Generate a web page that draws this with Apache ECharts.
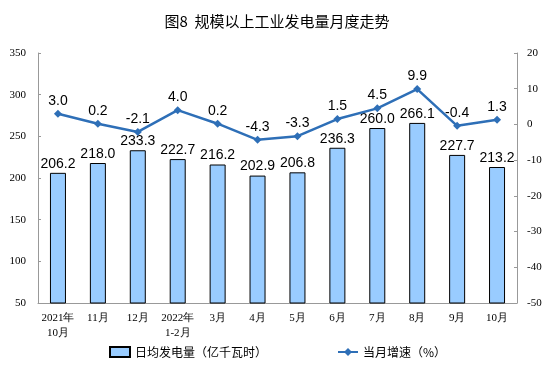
<!DOCTYPE html>
<html><head><meta charset="utf-8">
<script src="https://cdn.jsdelivr.net/npm/echarts@6/dist/echarts.min.js"></script>
<style>html,body{margin:0;padding:0;background:#fff}#c{width:554px;height:382px}</style>
</head><body><div id="c"></div>
<script>
const title = '图8  规模以上工业发电量月度走势';
const categories = ['2021年\n10月','11月','12月','2022年\n1-2月','3月','4月','5月','6月','7月','8月','9月','10月'];
const dailyOutput = [206.2,218.0,233.3,222.7,216.2,202.9,206.8,236.3,260.0,266.1,227.7,213.2];
const growth = [3.0,0.2,-2.1,4.0,0.2,-4.3,-3.3,1.5,4.5,9.9,-0.4,1.3];
const barName = '日均发电量（亿千瓦时）';
const lineName = '当月增速（%）';

const chart = echarts.init(document.getElementById('c'));
const axisFont = {fontFamily:'Liberation Serif', fontSize:11, color:'#000'};
chart.setOption({
  animation:false,
  title:{text:title,left:'center',top:9,textStyle:{fontFamily:'Noto Sans CJK SC',fontSize:15,fontWeight:'normal',color:'#000'}},
  legend:{bottom:19,left:104,itemGap:70,itemWidth:20,itemHeight:10,
    textStyle:{fontFamily:'Noto Sans CJK SC',fontSize:12,color:'#000'},
    data:[{name:barName,icon:'rect'},{name:lineName}]},
  grid:{left:38,right:37,top:53,bottom:79},
  xAxis:{type:'category',data:categories,
    axisLine:{onZero:false,lineStyle:{color:'#999'}},
    axisTick:{inside:true,length:3,lineStyle:{color:'#999'}},
    axisLabel:Object.assign({margin:8,lineHeight:15,interval:0},axisFont)},
  yAxis:[
    {type:'value',min:50,max:350,interval:50,splitLine:{show:false},
     axisLine:{show:true,lineStyle:{color:'#999'}},
     axisTick:{show:true,inside:true,length:3,lineStyle:{color:'#999'}},
     axisLabel:Object.assign({margin:12},axisFont)},
    {type:'value',min:-50,max:20,interval:10,splitLine:{show:false},
     axisLine:{show:true,lineStyle:{color:'#999'}},
     axisTick:{show:true,inside:true,length:3,lineStyle:{color:'#999'}},
     axisLabel:Object.assign({margin:10},axisFont)}
  ],
  series:[
    {name:barName,type:'bar',data:dailyOutput,barWidth:16,
     itemStyle:{color:'#99ccff',borderColor:'#000',borderWidth:1},
     label:{show:true,position:'top',distance:2,formatter:p=>p.value.toFixed(1),
       fontFamily:'Liberation Sans',fontSize:14,color:'#000'}},
    {name:lineName,type:'line',yAxisIndex:1,data:growth,
     symbol:'diamond',symbolSize:8,
     lineStyle:{color:'#2e6fb7',width:2.5},itemStyle:{color:'#2e6fb7'},
     label:{show:true,position:'top',distance:2,formatter:p=>p.value.toFixed(1),
       fontFamily:'Liberation Sans',fontSize:14,color:'#000'}}
  ]
});
</script></body></html>
